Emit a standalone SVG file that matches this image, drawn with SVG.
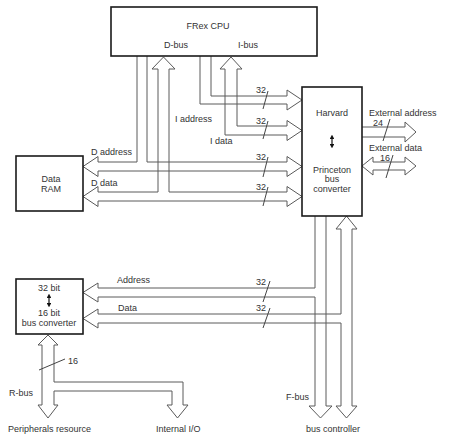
<svg xmlns="http://www.w3.org/2000/svg" width="449" height="442" viewBox="0 0 449 442">
<style>
  .box { fill: #fff; stroke: #1a1a1a; stroke-width: 1.6; }
  .bus { fill: none; stroke: #5a5a5a; stroke-width: 1; stroke-linejoin: miter; }
  .tick { stroke: #444; stroke-width: 1; }
  .t { font-family: "Liberation Sans", Arial, sans-serif; font-size: 9px; fill: #333; }
  .c { text-anchor: middle; }
  .dir { stroke: #111; stroke-width: 1.2; }
</style>
<defs>
  <marker id="tri" viewBox="0 0 6 6" refX="3" refY="3" markerWidth="4" markerHeight="4" orient="auto-start-reverse">
    <path d="M0,0 L6,3 L0,6 Z" fill="#111"/>
  </marker>
</defs>
<rect width="449" height="442" fill="#fff"/>

<g id="connectors">
  <!-- I address -->
  <path class="bus" d="M200,56 V104 H287 V110 L302,100 L287,90 V96 H211 V56"/>
  <!-- I data -->
  <path class="bus" d="M237,126 H287 V120.5 L302,130.5 L287,140.5 V135 H225 V69 H220 L231,57 L242,69 H237 Z"/>
  <!-- D address -->
  <path class="bus" d="M137,56 V162 H98 V156.5 L83,166.5 L98,176.5 V171 H287 V176.5 L302,166.5 L287,156.5 V162 H147 V56"/>
  <!-- D data -->
  <path class="bus" d="M169,192 H287 V186.5 L302,196.5 L287,206.5 V201 H98 V206.5 L83,196.5 L98,186.5 V192 H158 V69 H152 L163.5,57 L175,69 H169 Z"/>
  <!-- External address -->
  <path class="bus" d="M362,127 H405 V122 L416,132 L405,142 V137 H362"/>
  <!-- External data -->
  <path class="bus" d="M373,162 H405 V157 L416,166 L405,175 V170 H373 V175 L362,166 L373,157 Z"/>
  <!-- F-bus left + Address -->
  <path class="bus" d="M315,216 V288 H98 V283 L83,292.5 L98,302 V297 H315 V406 H309 L320.5,418 L332,406 H326 V216"/>
  <!-- F-bus right + Data -->
  <path class="bus" d="M341,229 V314 H98 V309 L83,318.5 L98,328 V323 H341 V406 H336 L346.5,418 L357,406 H352 V229 H357 L346.5,216 L336,229 Z"/>
  <!-- R-bus -->
  <path class="bus" d="M42,345 V405 H38 L48,418 L58,405 H54 V391 H172 V405 H167 L177.5,418 L188,405 H183 V382 H54 V345 H58 L48,335 L38,345 Z"/>

  <!-- width ticks -->
  <line class="tick" x1="268" y1="91" x2="263" y2="109"/>
  <line class="tick" x1="268" y1="121" x2="263" y2="139"/>
  <line class="tick" x1="268" y1="157" x2="263" y2="177"/>
  <line class="tick" x1="268" y1="187" x2="263" y2="206"/>
  <line class="tick" x1="270" y1="281" x2="263" y2="302"/>
  <line class="tick" x1="270" y1="308" x2="263" y2="328"/>
  <line class="tick" x1="390" y1="119" x2="383" y2="141"/>
  <line class="tick" x1="393" y1="155" x2="386" y2="178"/>
  <line class="tick" x1="39" y1="370" x2="65" y2="359"/>

  <text class="t" x="256" y="93">32</text>
  <text class="t" x="256" y="124">32</text>
  <text class="t" x="256" y="160">32</text>
  <text class="t" x="256" y="190">32</text>
  <text class="t" x="256" y="285">32</text>
  <text class="t" x="256" y="311">32</text>
  <text class="t" x="373" y="126">24</text>
  <text class="t" x="380" y="161">16</text>
  <text class="t" x="68" y="364">16</text>

  <text class="t" x="175" y="122">I address</text>
  <text class="t" x="210" y="144">I data</text>
  <text class="t" x="91" y="155">D address</text>
  <text class="t" x="91" y="186">D data</text>
  <text class="t" x="369" y="116">External address</text>
  <text class="t" x="369" y="151">External data</text>
  <text class="t" x="117" y="283">Address</text>
  <text class="t" x="118" y="311">Data</text>
  <text class="t" x="9" y="396">R-bus</text>
  <text class="t" x="286" y="400">F-bus</text>
  <text class="t" x="8" y="432">Peripherals resource</text>
  <text class="t" x="156" y="432">Internal I/O</text>
  <text class="t" x="306" y="432">bus controller</text>
</g>

<g id="cpu">
  <rect class="box" x="111" y="7" width="206" height="49"/>
  <text class="t c" x="208" y="29">FRex CPU</text>
  <text class="t c" x="176" y="48">D-bus</text>
  <text class="t c" x="248" y="48">I-bus</text>
</g>

<g id="data-ram">
  <rect class="box" x="16" y="156" width="67" height="55"/>
  <text class="t c" x="51" y="182">Data</text>
  <text class="t c" x="51" y="192">RAM</text>
</g>

<g id="harvard-converter">
  <rect class="box" x="302" y="87" width="60" height="129"/>
  <text class="t c" x="332" y="116">Harvard</text>
  <line class="dir" x1="332" y1="137" x2="332" y2="146" marker-start="url(#tri)" marker-end="url(#tri)"/>
  <text class="t c" x="332" y="173">Princeton</text>
  <text class="t c" x="332" y="182">bus</text>
  <text class="t c" x="332" y="192">converter</text>
</g>

<g id="bus-converter-32-16">
  <rect class="box" x="16" y="279" width="67" height="55"/>
  <text class="t c" x="49" y="291">32 bit</text>
  <line class="dir" x1="49" y1="296" x2="49" y2="305" marker-start="url(#tri)" marker-end="url(#tri)"/>
  <text class="t c" x="49" y="316">16 bit</text>
  <text class="t c" x="49" y="326">bus converter</text>
</g>
</svg>
